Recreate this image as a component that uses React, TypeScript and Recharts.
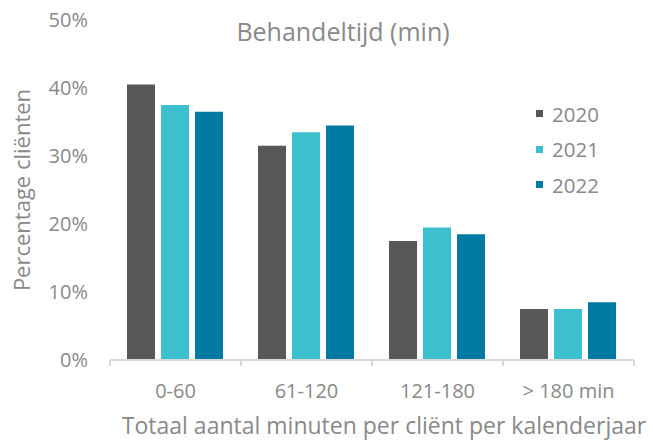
import { BarChart, Bar, XAxis, YAxis, Label } from "recharts";

const categories = ["0-60", "61-120", "121-180", "> 180 min"];
const values2020 = [40.5, 31.5, 17.5, 7.5];
const values2021 = [37.5, 33.5, 19.5, 7.5];
const values2022 = [36.5, 34.5, 18.5, 8.5];
const yTicks = [0, 10, 20, 30, 40, 50];

const series = [
  { key: "2020", color: "#595757" },
  { key: "2021", color: "#3CC0CD" },
  { key: "2022", color: "#007AA3" },
];

const data = categories.map((name, i) => ({
  name,
  "2020": values2020[i],
  "2021": values2021[i],
  "2022": values2022[i],
}));

const TEXT = "#898989";
const FONT = "'Open Sans', sans-serif";
const BAND = 131;

const XTick = (props: any) => {
  const { x, y, payload, index } = props;
  const top = y - 8;
  return (
    <g>
      <line x1={x - BAND / 2} x2={x - BAND / 2} y1={top} y2={top + 6} stroke="#d9d9d9" strokeWidth={2} />
      {index === categories.length - 1 && (
        <line x1={x + BAND / 2} x2={x + BAND / 2} y1={top} y2={top + 6} stroke="#d9d9d9" strokeWidth={2} />
      )}
      <text x={x} y={top + 30} textAnchor="middle" dominantBaseline="central" fill={TEXT} fontSize={20} fontFamily={FONT}>
        {payload.value}
      </text>
    </g>
  );
};

const App = () => {
  return (
    <div style={{ position: "absolute", left: 0, top: 0, width: 653, height: 441, background: "#fff" }}>
      <BarChart
        width={653}
        height={441}
        data={data}
        margin={{ top: 20, right: 19, bottom: 0, left: 0 }}
        barCategoryGap={17}
        barGap={6}
      >
        <XAxis
          dataKey="name"
          axisLine={{ stroke: "#d9d9d9", strokeWidth: 2 }}
          tickLine={false}
          tick={<XTick />}
          interval={0}
          height={81}
        >
          <Label
            value="Totaal aantal minuten per cliënt per kalenderjaar"
            position="insideBottom"
            offset={7}
            dx={12}
            fill={TEXT}
            fontSize={23}
            fontFamily={FONT}
          />
        </XAxis>
        <YAxis
          width={110}
          domain={[0, 50]}
          ticks={yTicks}
          tickFormatter={(v) => `${v}%`}
          axisLine={false}
          tickLine={false}
          tickMargin={16}
          tick={{ fill: TEXT, fontSize: 20, fontFamily: FONT }}
        >
          <Label
            value="Percentage cliënten"
            angle={-90}
            position="insideLeft"
            offset={22}
            style={{ textAnchor: "middle" }}
            fill={TEXT}
            fontSize={22}
            fontFamily={FONT}
          />
        </YAxis>
        {series.map((s) => (
          <Bar key={s.key} dataKey={s.key} fill={s.color} isAnimationActive={false} />
        ))}
      </BarChart>
      <div
        style={{
          position: "absolute",
          left: 0,
          width: 686,
          top: 14,
          textAlign: "center",
          fontFamily: FONT,
          fontSize: 25,
          color: TEXT,
        }}
      >
        Behandeltijd (min)
      </div>
      <div style={{ position: "absolute", left: 536, top: 96, fontFamily: FONT }}>
        {series.map((s) => (
          <div key={s.key} style={{ display: "flex", alignItems: "center", height: 35.5 }}>
            <span style={{ width: 7, height: 7, background: s.color, marginRight: 9 }} />
            <span style={{ color: TEXT, fontSize: 20.5 }}>{s.key}</span>
          </div>
        ))}
      </div>
    </div>
  );
};

export default App;
